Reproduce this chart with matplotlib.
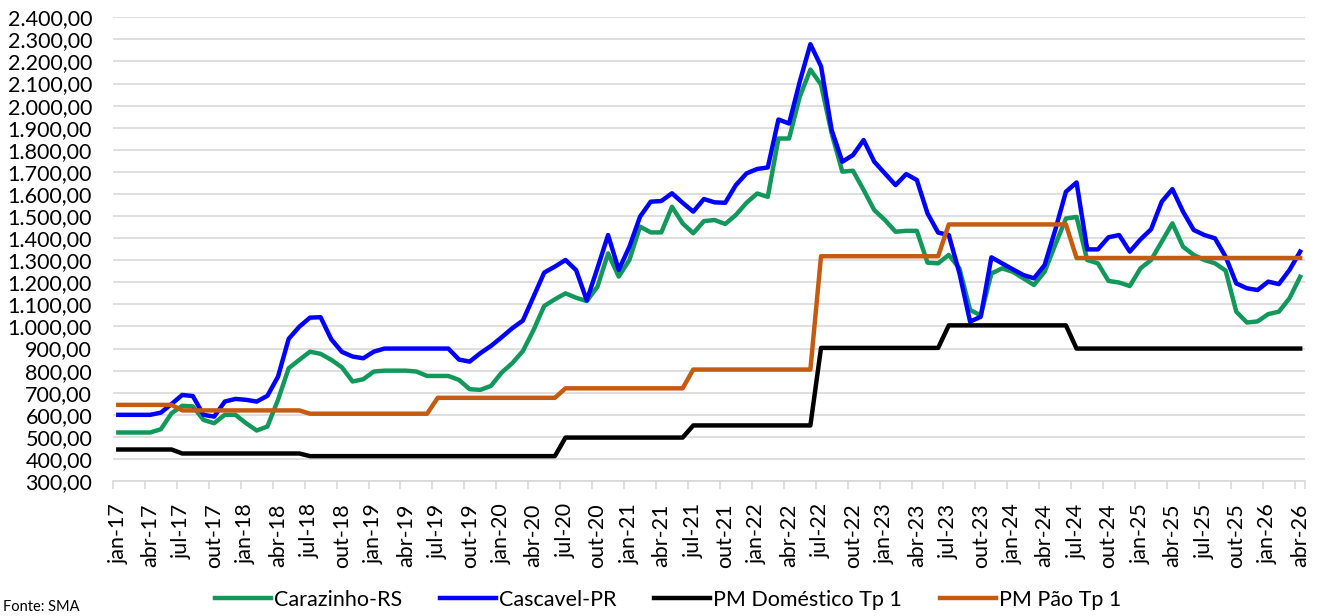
import matplotlib
matplotlib.use("Agg")
import matplotlib.pyplot as plt
from matplotlib.ticker import FuncFormatter, FixedLocator

# meses jan-17 .. abr-26
meses = ['jan', 'fev', 'mar', 'abr', 'mai', 'jun', 'jul', 'ago', 'set', 'out', 'nov', 'dez']
anos = ['17', '18', '19', '20', '21', '22', '23', '24', '25', '26']
rotulos = [m + '-' + a for a in anos for m in meses][:112]

carazinho = [520, 520, 520, 520, 535, 607, 641, 638, 577, 562, 600, 600,
             562, 529, 547, 668, 811, 849, 886, 876, 849, 815, 751, 761,
             796, 800, 800, 800, 796, 776, 776, 776, 758, 716, 713, 731,
             791, 834, 889, 984, 1093, 1123, 1150, 1130, 1115, 1180, 1331, 1226,
             1301, 1452, 1426, 1426, 1542, 1467, 1422, 1477, 1482, 1464, 1505, 1560,
             1602, 1587, 1851, 1851, 2040, 2163, 2095, 1874, 1701, 1705, 1618, 1527,
             1482, 1429, 1433, 1433, 1289, 1286, 1324, 1263, 1075, 1050, 1240, 1263,
             1248, 1218, 1188, 1248, 1370, 1489, 1496, 1301, 1286, 1206, 1199, 1183,
             1263, 1301, 1384, 1467, 1361, 1324, 1301, 1286, 1253, 1067, 1018, 1023,
             1056, 1067, 1128, 1225]

cascavel = [600, 600, 600, 600, 610, 649, 690, 685, 600, 592, 660, 672,
            668, 660, 686, 773, 944, 999, 1040, 1042, 942, 885, 864, 856,
            886, 900, 900, 900, 900, 900, 900, 900, 850, 841, 879, 912,
            951, 992, 1027, 1135, 1244, 1271, 1301, 1255, 1118, 1264, 1414, 1256,
            1361, 1497, 1565, 1568, 1603, 1560, 1520, 1577, 1562, 1560, 1640, 1693,
            1713, 1720, 1937, 1919, 2108, 2278, 2178, 1889, 1746, 1776, 1844, 1746,
            1693, 1640, 1690, 1663, 1512, 1425, 1414, 1241, 1022, 1044, 1313, 1286,
            1259, 1233, 1218, 1278, 1437, 1610, 1652, 1349, 1349, 1404, 1414, 1339,
            1394, 1440, 1565, 1622, 1520, 1437, 1414, 1399, 1316, 1195, 1173, 1165,
            1203, 1192, 1256, 1339]

pm_domestico = [443, 443, 443, 443, 443, 443, 425, 425, 425, 425, 425, 425,
                425, 425, 425, 425, 425, 425, 413, 413, 413, 413, 413, 413,
                413, 413, 413, 413, 413, 413, 413, 413, 413, 413, 413, 413,
                413, 413, 413, 413, 413, 413, 497, 497, 497, 497, 497, 497,
                497, 497, 497, 497, 497, 497, 552, 552, 552, 552, 552, 552,
                552, 552, 552, 552, 552, 552, 903, 903, 903, 903, 903, 903,
                903, 903, 903, 903, 903, 903, 1005, 1005, 1005, 1005, 1005, 1005,
                1005, 1005, 1005, 1005, 1005, 1005, 900, 900, 900, 900, 900, 900,
                900, 900, 900, 900, 900, 900, 900, 900, 900, 900, 900, 900,
                900, 900, 900, 900]

pm_pao = [645, 645, 645, 645, 645, 645, 620, 620, 620, 620, 620, 620,
          620, 620, 620, 620, 620, 620, 605, 605, 605, 605, 605, 605,
          605, 605, 605, 605, 605, 605, 677, 677, 677, 677, 677, 677,
          677, 677, 677, 677, 677, 677, 720, 720, 720, 720, 720, 720,
          720, 720, 720, 720, 720, 720, 805, 805, 805, 805, 805, 805,
          805, 805, 805, 805, 805, 805, 1318, 1318, 1318, 1318, 1318, 1318,
          1318, 1318, 1318, 1318, 1318, 1318, 1462, 1462, 1462, 1462, 1462, 1462,
          1462, 1462, 1462, 1462, 1462, 1462, 1310, 1310, 1310, 1310, 1310, 1310,
          1310, 1310, 1310, 1310, 1310, 1310, 1310, 1310, 1310, 1310, 1310, 1310,
          1310, 1310, 1310, 1310]

plt.rcParams['font.family'] = ['Lato', 'DejaVu Sans']

fig = plt.figure(figsize=(13.2, 6.16), dpi=100)
ax = fig.add_axes([0.0856, 0.219, 0.9034, 0.753])

x = list(range(len(rotulos)))
ax.plot(x, carazinho, color='#12985A', lw=3.2, label='Carazinho-RS', solid_joinstyle='round')
ax.plot(x, cascavel, color='#0000FF', lw=3.2, label='Cascavel-PR', solid_joinstyle='round')
ax.plot(x, pm_domestico, color='#000000', lw=3.2, label='PM Doméstico Tp 1', solid_joinstyle='round')
ax.plot(x, pm_pao, color='#C55A11', lw=3.2, label='PM Pão Tp 1', solid_joinstyle='round')

ax.set_xlim(-0.5, len(rotulos) - 0.5)
ax.set_ylim(300, 2400)
ax.set_yticks(range(300, 2401, 100))
ax.yaxis.set_major_formatter(FuncFormatter(
    lambda v, p: f"{v:,.2f}".replace(',', 'X').replace('.', ',').replace('X', '.')))
ax.grid(axis='y', color='#d9d9d9', lw=1.2)
ax.set_axisbelow(True)

ax.set_xticks(x[::3])
ax.set_xticklabels(rotulos[::3], rotation=90)
ax.xaxis.set_minor_locator(FixedLocator([i - 0.5 for i in x[::3]] + [len(rotulos) - 0.5]))
ax.tick_params(axis='x', which='major', length=0, pad=16, labelsize=15.5)
ax.tick_params(axis='x', which='minor', length=6, width=1.2, color='#d9d9d9')
ax.tick_params(axis='y', length=0, pad=15, labelsize=15.5)

for s in ['top', 'right', 'left']:
    ax.spines[s].set_visible(False)
ax.spines['bottom'].set_color('#d9d9d9')
ax.spines['bottom'].set_linewidth(1.2)

fig.legend(loc='center', bbox_to_anchor=(0.506, 0.026), ncol=4, frameon=False,
           fontsize=15.5, handlelength=2.6, handletextpad=0.15, columnspacing=1.75)
fig.text(0.002, 0.003, 'Fonte: SMA', fontsize=10.5, va='bottom', ha='left')

fig.savefig('out.png', dpi=100)
